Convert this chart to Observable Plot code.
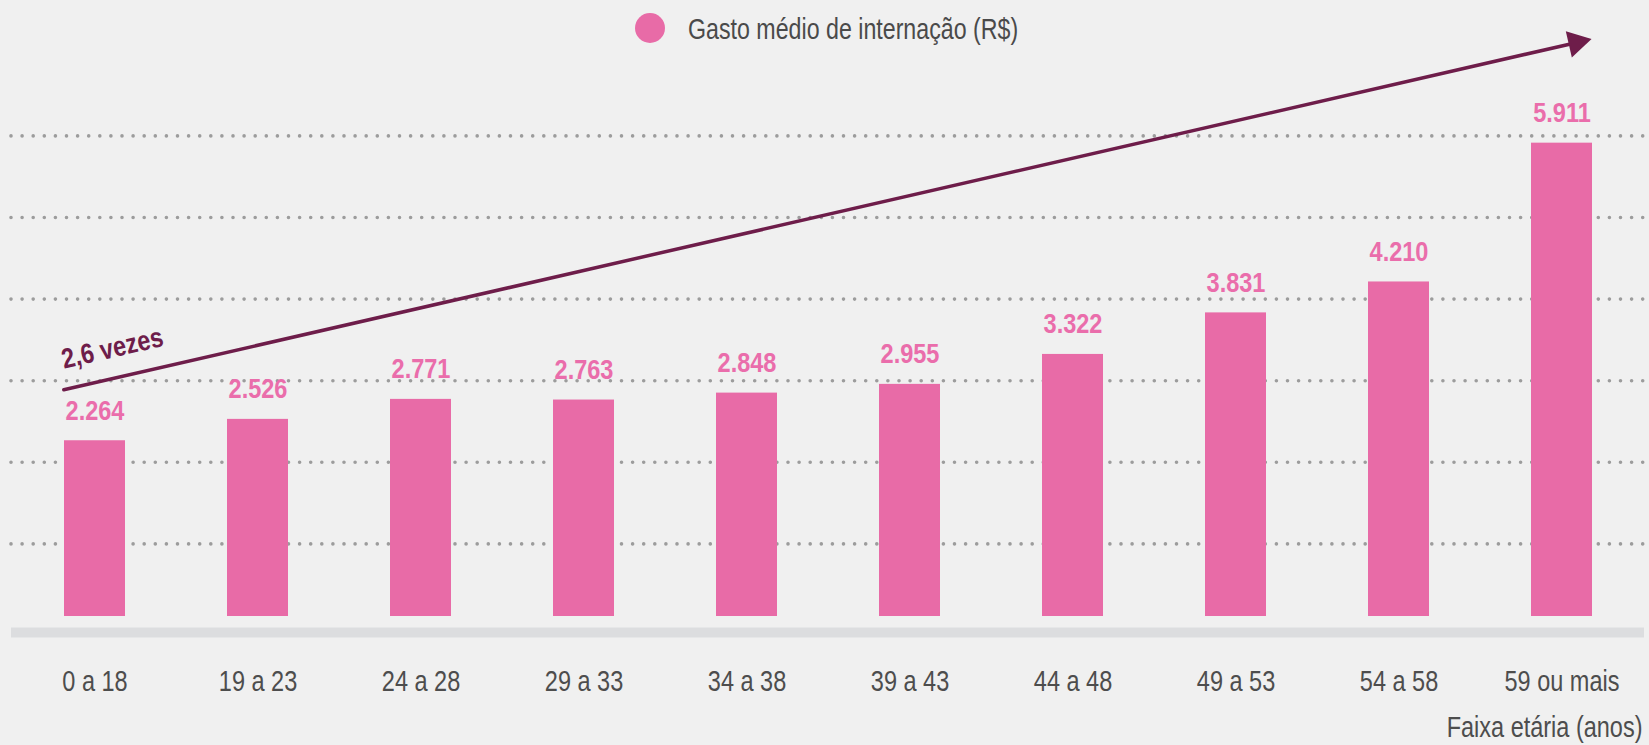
<!DOCTYPE html>
<html><head><meta charset="utf-8">
<script src="https://cdn.jsdelivr.net/npm/d3@7"></script>
<script src="https://cdn.jsdelivr.net/npm/@observablehq/plot@0.6"></script>
<style>
html,body{margin:0;padding:0;background:#f0f0f0;}
body{width:1649px;height:745px;position:relative;overflow:hidden;font-family:"Liberation Sans",Arial,sans-serif;}
#legend{position:absolute;left:0;top:0;width:1649px;height:56px;}
#legend .sw{position:absolute;left:635px;top:13px;width:30px;height:30px;border-radius:50%;background:#e86ba7;}
#legend .lbl{position:absolute;left:688px;top:13px;font-size:29px;line-height:32px;color:#4a4a4a;white-space:nowrap;display:inline-block;transform:scaleX(0.8);transform-origin:0 50%;}
#chart{position:absolute;left:0;top:0;}
</style></head><body>
<div id="chart"></div>
<div id="legend"><span class="sw"></span><span class="lbl">Gasto médio de internação (R$)</span></div>
<script>
const faixas = ["0 a 18","19 a 23","24 a 28","29 a 33","34 a 38","39 a 43","44 a 48","49 a 53","54 a 58","59 ou mais"];
const gastos = [2264,2526,2771,2763,2848,2955,3322,3831,4210,5911];
const gridValues = [1000,2000,3000,4000,5000,6000];
const arrowFrom = {faixa:"0 a 18", valor:2976};
const arrowTo = {faixa:"59 ou mais", valor:7103};
const arrowLabel = "2,6 vezes";
const xTitle = "Faixa etária (anos)";

const data = faixas.map((f,i)=>({faixa:f, gasto:gastos[i]}));
const arrow = [{x1:arrowFrom.faixa, y1:arrowFrom.valor, x2:arrowTo.faixa, y2:arrowTo.valor, label:arrowLabel}];
const fmt = d3.formatLocale({decimal:",", thousands:".", grouping:[3], currency:["R$",""]}).format(",d");

const pink = "#e86ba7";
const plum = "#6e1d4a";
const font = '"Liberation Sans",Arial,sans-serif';

const chart = Plot.plot({
  width:1649, height:745,
  marginLeft:11, marginRight:5, marginTop:13, marginBottom:120,
  style:{background:"transparent", fontFamily:font, fontSize:"29px"},
  x:{domain:faixas, paddingInner:0.627, paddingOuter:0.3135, align:0.5, label:null},
  y:{domain:[0,7500], axis:null},
  marks:[
    Plot.ruleY(gridValues,{stroke:"#9c9c9c", strokeWidth:3.6, strokeDasharray:"0,11.1", strokeLinecap:"round"}),
    Plot.ruleY([0],{stroke:"#dcdddf", strokeWidth:10, dy:7}),
    Plot.barY(data,{x:"faixa", y:"gasto", fill:pink, insetBottom:9}),
    Plot.text(data,{x:"faixa", y:"gasto", text:d=>fmt(d.gasto), dy:-30, fill:"#ea6dab", fontSize:28, fontWeight:"bold"}),
    Plot.arrow(arrow,{x1:"x1", y1:"y1", x2:"x2", y2:"y2", stroke:plum, strokeWidth:3.5, headLength:0, insetStart:-32, insetEnd:-20}),
    Plot.dot(arrow,{x:"x2", y:"y2", symbol:"triangle", r:10, rotate:77.1, fill:plum, stroke:"none", dx:14.4, dy:-3.3}),
    Plot.text(arrow,{x:"x1", y:"y1", text:"label", rotate:-12.9, textAnchor:"start", dx:-33, dy:-22.7, fill:plum, fontSize:28, fontWeight:"bold"}),
    Plot.axisX({tickSize:0, tickPadding:45, fontSize:29, color:"#4d4d4d", label:null}),
    Plot.text([xTitle],{frameAnchor:"bottom-right", textAnchor:"end", dx:-2, dy:111, fill:"#4d4d4d", fontSize:29})
  ]
});
document.getElementById("chart").append(chart);
// condensed look: squeeze glyphs horizontally (no condensed face installed)
chart.querySelectorAll("text").forEach(t => {
  const bold = (t.getAttribute("font-weight") || (t.parentNode && t.parentNode.getAttribute && t.parentNode.getAttribute("font-weight"))) === "bold";
  const len = t.getComputedTextLength();
  if (len > 0) {
    t.setAttribute("textLength", (len * (bold ? 0.84 : 0.81)).toFixed(1));
    t.setAttribute("lengthAdjust", "spacingAndGlyphs");
  }
});
</script>
</body></html>
